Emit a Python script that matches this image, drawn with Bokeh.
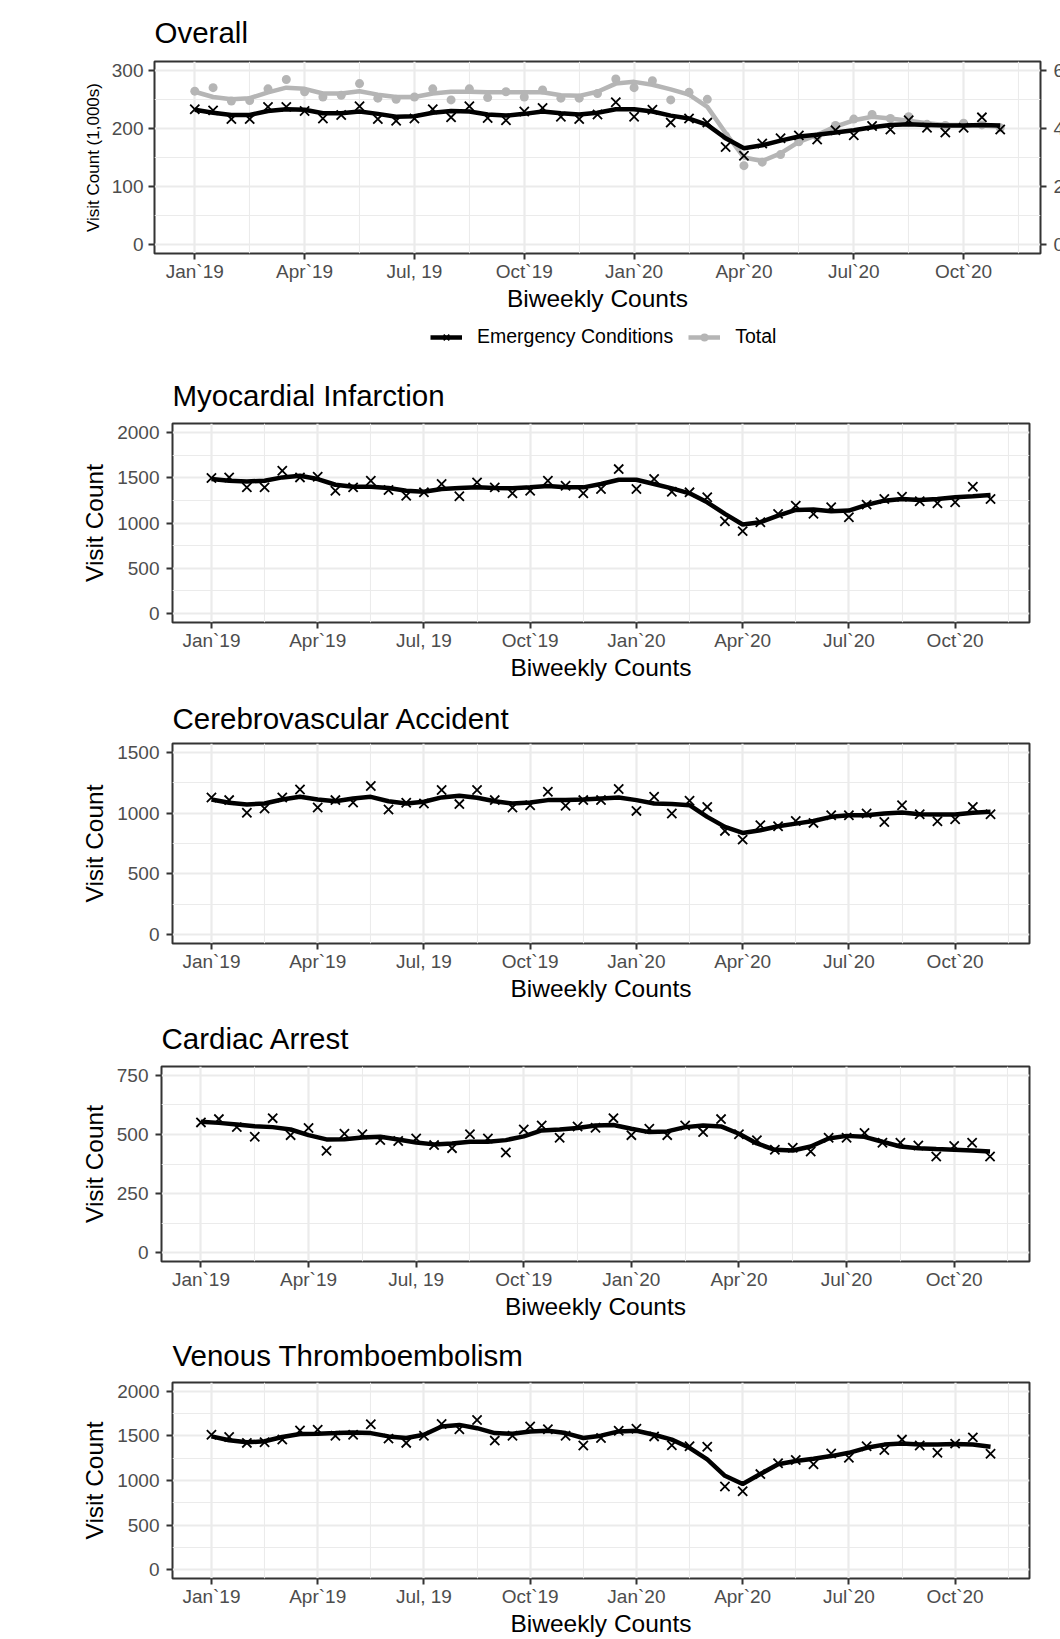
import numpy as np
from bokeh.plotting import figure
from bokeh.layouts import column
from bokeh.models import Range1d, LinearAxis, FixedTicker, Legend, LegendItem
from bokeh.embed import file_html
from bokeh.resources import INLINE

FONT = "Liberation Sans"
TICK_COLOR = "#4D4D4D"
DARK = "#333333"
GRID = "#EBEBEB"
GRAY = "#B5B5B5"

# semi-monthly reporting periods, positioned in months since Jan 2019
periods = np.arange(45) * 0.5
month_ticks = [0, 3, 6, 9, 12, 15, 18, 21]
month_minor = [-1.5, 1.5, 4.5, 7.5, 10.5, 13.5, 16.5, 19.5, 22.5]
month_labels = ["Jan`19", "Apr`19", "Jul, 19", "Oct`19", "Jan`20", "Apr`20", "Jul`20", "Oct`20"]

# Overall (1,000s)
overall_emergency = [233, 231, 216, 216, 237, 237, 230, 217, 223, 238, 216, 213, 217, 233, 219,
                     238, 218, 214, 229, 235, 220, 216, 224, 245, 220, 232, 210, 217, 210, 168,
                     153, 174, 183, 188, 181, 197, 188, 204, 198, 214, 201, 193, 201, 219, 198]
overall_emergency_trend = [232, 227, 223, 223, 230, 233, 232, 226, 226, 229, 225, 220, 221, 227, 230,
                           229, 224, 222, 225, 229, 226, 224, 227, 233, 233, 229, 222, 217, 206, 183,
                           166, 171, 179, 186, 189, 193, 197, 202, 206, 207, 206, 205, 205, 206, 205]
overall_total = [528, 540, 494, 496, 536, 568, 526, 508, 514, 554, 504, 500, 508, 536, 498,
                 536, 506, 526, 508, 532, 504, 504, 520, 570, 540, 564, 498, 524, 500, 374,
                 272, 284, 310, 354, 372, 410, 432, 448, 434, 440, 414, 410, 418, 412, 402]
overall_total_trend = [526, 508, 500, 504, 524, 540, 536, 520, 520, 528, 516, 508, 508, 520, 526,
                       526, 524, 524, 524, 524, 514, 512, 526, 554, 560, 550, 534, 516, 474, 384,
                       300, 288, 314, 354, 378, 406, 428, 440, 434, 426, 418, 412, 412, 410, 406]

mi = [1497, 1504, 1394, 1394, 1577, 1504, 1511, 1357, 1394, 1467, 1365, 1302, 1339, 1431, 1295,
      1449, 1394, 1328, 1357, 1467, 1412, 1328, 1376, 1596, 1376, 1486, 1346, 1339, 1284, 1020,
      910, 1009, 1101, 1192, 1101, 1174, 1064, 1203, 1266, 1291, 1240, 1218, 1229, 1401, 1266]
mi_trend = [1486, 1467, 1460, 1467, 1504, 1522, 1486, 1423, 1401, 1401, 1387, 1357, 1346, 1376, 1387,
            1394, 1387, 1383, 1394, 1409, 1394, 1394, 1431, 1478, 1478, 1431, 1383, 1328, 1229, 1101,
            983, 1009, 1082, 1145, 1148, 1130, 1137, 1200, 1247, 1266, 1255, 1266, 1284, 1295, 1310]

cva = [1130, 1108, 1003, 1039, 1130, 1196, 1047, 1108, 1088, 1224, 1030, 1086, 1080, 1191, 1075,
       1191, 1108, 1047, 1066, 1177, 1061, 1108, 1108, 1199, 1019, 1135, 997, 1102, 1052, 854,
       782, 901, 892, 936, 920, 983, 983, 997, 928, 1066, 992, 934, 950, 1052, 992]
cva_trend = [1113, 1086, 1072, 1080, 1113, 1135, 1113, 1099, 1122, 1135, 1099, 1080, 1094, 1130, 1144,
             1127, 1099, 1080, 1088, 1108, 1108, 1113, 1122, 1130, 1108, 1080, 1075, 1066, 970, 887,
             837, 859, 892, 914, 936, 970, 983, 983, 997, 1006, 992, 989, 989, 1003, 1011]

ca = [551, 565, 531, 490, 569, 497, 527, 431, 503, 501, 476, 472, 483, 455, 442,
      501, 483, 424, 521, 538, 486, 534, 528, 569, 497, 524, 497, 538, 510, 565,
      501, 476, 435, 444, 428, 486, 486, 506, 465, 465, 453, 407, 451, 465, 407]
ca_trend = [554, 549, 542, 535, 531, 521, 497, 479, 480, 487, 490, 479, 466, 458, 462,
            469, 469, 476, 492, 517, 521, 527, 538, 540, 524, 510, 513, 531, 538, 534,
            503, 462, 435, 432, 449, 483, 494, 490, 469, 449, 442, 438, 435, 432, 428]

vte = [1514, 1488, 1422, 1429, 1459, 1562, 1569, 1503, 1514, 1632, 1470, 1422, 1503, 1635, 1576,
       1680, 1448, 1503, 1606, 1576, 1503, 1392, 1477, 1558, 1580, 1495, 1396, 1385, 1378, 932,
       880, 1072, 1193, 1230, 1182, 1304, 1256, 1385, 1341, 1459, 1392, 1311, 1414, 1484, 1300]
vte_trend = [1495, 1451, 1429, 1440, 1488, 1521, 1525, 1532, 1540, 1532, 1495, 1477, 1514, 1606, 1624,
             1587, 1532, 1525, 1551, 1558, 1532, 1477, 1503, 1551, 1558, 1514, 1459, 1367, 1238, 1053,
             961, 1072, 1182, 1219, 1245, 1274, 1311, 1367, 1403, 1414, 1403, 1403, 1411, 1403, 1378]


def style_axis(ax, label_standoff, title_standoff):
    ax.axis_line_color = None
    ax.major_tick_line_color = DARK
    ax.major_tick_line_width = 2
    ax.major_tick_out = 6
    ax.major_tick_in = 0
    ax.minor_tick_line_color = None
    ax.major_label_text_font = FONT
    ax.major_label_text_font_size = "19px"
    ax.major_label_text_color = TICK_COLOR
    ax.major_label_standoff = label_standoff
    ax.axis_label_text_font = FONT
    ax.axis_label_text_font_size = "24.5px"
    ax.axis_label_text_font_style = "normal"
    ax.axis_label_text_color = "black"
    ax.axis_label_standoff = title_standoff


def make_fig(title, width, height, left, right, top, bottom, title_standoff,
             y_lo, y_hi, yticks, yminor, ylabel, **extra):
    p = figure(width=width, height=height, x_range=Range1d(-1.1, 23.1), y_range=Range1d(y_lo, y_hi),
               output_backend="svg", toolbar_location=None, title=title,
               min_border_left=left, min_border_right=right, min_border_top=top,
               min_border_bottom=bottom, **extra)
    p.background_fill_color = "white"
    p.border_fill_color = "white"
    p.outline_line_color = DARK
    p.outline_line_width = 2
    p.title.text_font = FONT
    p.title.text_font_size = "29.5px"
    p.title.text_font_style = "normal"
    p.title.text_color = "black"
    p.title.standoff = title_standoff
    xt = FixedTicker(ticks=month_ticks, minor_ticks=month_minor)
    yt = FixedTicker(ticks=yticks, minor_ticks=yminor)
    p.xaxis[0].ticker = xt
    p.xgrid[0].ticker = xt
    p.yaxis[0].ticker = yt
    p.ygrid[0].ticker = yt
    p.xaxis[0].major_label_overrides = {t: l for t, l in zip(month_ticks, month_labels)}
    p.xaxis[0].axis_label = "Biweekly Counts"
    p.yaxis[0].axis_label = ylabel
    style_axis(p.xaxis[0], 1, 0)
    style_axis(p.yaxis[0], 7, 6)
    for g in (p.xgrid[0], p.ygrid[0]):
        g.grid_line_color = GRID
        g.grid_line_width = 2.2
        g.minor_grid_line_color = GRID
        g.minor_grid_line_width = 1.1
    return p


def add_series(p, vals, trend, color="black", **kw):
    s = p.scatter(periods, vals, marker="x", size=13, line_color=color, line_width=1.8, **kw)
    l = p.line(periods, trend, line_color=color, line_width=4.5, **kw)
    return l, s


# ---- Overall panel (its secondary axis runs past the right edge of the page, as in the original) ----
p1 = make_fig("Overall", 1100, 315, 154, 60, 61, 62, 26, -15, 315,
              [0, 100, 200, 300], [50, 150, 250], "Visit Count (1,000s)",
              styles={"min-width": "1100px", "max-width": "none"})
p1.yaxis[0].axis_label_text_font_size = "17px"
p1.yaxis[0].major_label_standoff = 5
p1.yaxis[0].axis_label_standoff = 6
p1.extra_y_ranges = {"total": Range1d(-30, 630)}
right_axis = LinearAxis(y_range_name="total", ticker=FixedTicker(ticks=[0, 200, 400, 600]))
style_axis(right_axis, 7, 6)
p1.add_layout(right_axis, "right")

p1.scatter(periods, overall_total, marker="circle", size=9, fill_color=GRAY, line_color=None,
           y_range_name="total")
p1.line(periods, overall_total_trend, line_color=GRAY, line_width=4.5, y_range_name="total")
add_series(p1, overall_emergency, overall_emergency_trend)

# ---- legend strip under the Overall panel (series lie outside this strip's range; only keys show) ----
p_leg = figure(width=1060, height=40, x_range=Range1d(-1.1, 23.1), y_range=Range1d(0, 1),
               x_axis_type=None, y_axis_type=None, output_backend="svg", toolbar_location=None,
               min_border=0, outline_line_color=None)
p_leg.border_fill_color = "white"
p_leg.background_fill_color = "white"
le_l = p_leg.line(periods, overall_emergency_trend, line_color="black", line_width=4.5)
le_s = p_leg.scatter(periods, overall_emergency, marker="x", size=13, line_color="black", line_width=1.8)
lt_l = p_leg.line(periods, overall_total_trend, line_color=GRAY, line_width=4.5)
lt_s = p_leg.scatter(periods, overall_total, marker="circle", size=9, fill_color=GRAY, line_color=None)
legend = Legend(items=[LegendItem(label="Emergency Conditions", renderers=[le_l, le_s]),
                       LegendItem(label="Total", renderers=[lt_l, lt_s])],
                orientation="horizontal", location=(430, 7), border_line_color=None,
                background_fill_alpha=0, label_text_font=FONT, label_text_font_size="19.5px",
                label_text_color="black", glyph_width=32, glyph_height=20, label_standoff=15,
                spacing=15, padding=0, margin=0)
p_leg.add_layout(legend)

# ---- Condition panels ----
p2 = make_fig("Myocardial Infarction", 1060, 333, 172, 31, 68, 66, 24, -100, 2100,
              [0, 500, 1000, 1500, 2000], [250, 750, 1250, 1750], "Visit Count")
add_series(p2, mi, mi_trend)

p3 = make_fig("Cerebrovascular Accident", 1060, 317, 172, 31, 55, 62, 17, -75, 1575,
              [0, 500, 1000, 1500], [250, 750, 1250], "Visit Count")
add_series(p3, cva, cva_trend)

p4 = make_fig("Cardiac Arrest", 1060, 317, 161, 31, 61, 58, 23, -37.5, 787.5,
              [0, 250, 500, 750], [125, 375, 625], "Visit Count")
add_series(p4, ca, ca_trend)

p5 = make_fig("Venous Thromboembolism", 1060, 317, 172, 31, 60, 59, 22, -100, 2100,
              [0, 500, 1000, 1500, 2000], [250, 750, 1250, 1750], "Visit Count")
add_series(p5, vte, vte_trend)

inner = column(p1, styles={"width": "1100px", "height": "315px"})
top_block = column(inner, styles={"overflow": "hidden", "width": "1060px", "height": "315px"})
roots = [top_block, p_leg, p2, p3, p4, p5]

open("out.html", "w").write(file_html(roots, INLINE))
